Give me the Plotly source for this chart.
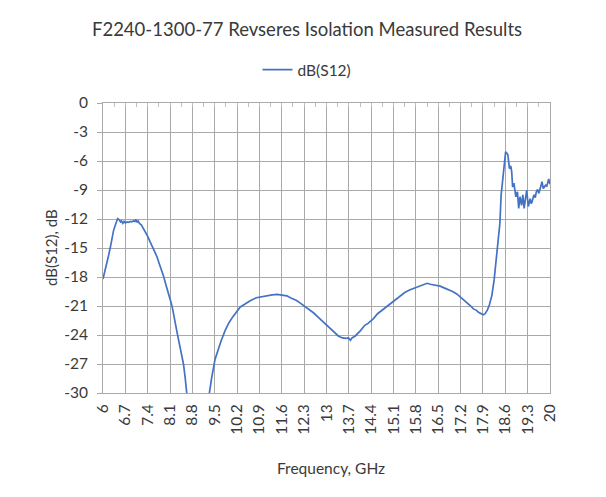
import plotly.graph_objects as go

# ---- data ----
freq_ghz = [
    6.00, 6.10, 6.18, 6.25, 6.33, 6.40, 6.46, 6.50, 6.55, 6.58, 6.62, 6.66, 6.70, 6.75,
    6.80, 6.85, 6.90, 6.95, 7.00, 7.03, 7.07, 7.10, 7.14, 7.20, 7.27, 7.33, 7.40, 7.48,
    7.55, 7.62, 7.69, 7.76, 7.83, 7.90, 7.97, 8.05, 8.12, 8.18, 8.24, 8.30, 8.36, 8.42,
    8.47, 8.52, 8.57, 8.60, 8.70, 8.85, 9.00, 9.15, 9.30, 9.40, 9.51, 9.60, 9.70, 9.83,
    9.95, 10.07, 10.19, 10.30, 10.45, 10.61, 10.80, 11.00, 11.13, 11.30, 11.45, 11.60,
    11.76, 11.90, 12.05, 12.18, 12.30, 12.45, 12.59, 12.72, 12.85, 13.01, 13.15, 13.27,
    13.37, 13.50, 13.60, 13.69, 13.75, 13.80, 13.90, 14.05, 14.20, 14.30, 14.47, 14.60,
    14.75, 14.89, 15.05, 15.20, 15.31, 15.45, 15.60, 15.72, 15.85, 16.00, 16.15, 16.25,
    16.35, 16.45, 16.56, 16.70, 16.85, 16.95, 17.08, 17.20, 17.30, 17.40, 17.50, 17.60,
    17.70, 17.76, 17.85, 17.91, 17.97, 18.04, 18.10, 18.18, 18.25, 18.30, 18.35, 18.43,
    18.47, 18.51, 18.56, 18.61, 18.65, 18.68, 18.71, 18.73, 18.77, 18.80, 18.83, 18.87,
    18.90, 18.93, 18.96, 18.98, 19.02, 19.06, 19.11, 19.15, 19.19, 19.23, 19.27, 19.32,
    19.35, 19.38, 19.41, 19.44, 19.47, 19.50, 19.54, 19.57, 19.61, 19.65, 19.68, 19.71,
    19.75, 19.79, 19.83, 19.86, 19.90, 19.93, 19.96, 20.00,
]
s12_db = [
    -18.2, -16.6, -15.7, -14.6, -13.2, -12.5, -11.95, -12.05, -12.3, -12.2, -12.45, -12.25, -12.4, -12.3,
    -12.35, -12.25, -12.3, -12.2, -12.25, -12.05, -12.35, -12.2, -12.45, -12.6, -13.0, -13.4, -13.8, -14.4,
    -14.9, -15.4, -15.9, -16.6, -17.2, -17.95, -18.8, -19.6, -20.5, -21.3, -22.5, -23.4, -24.4, -25.4,
    -26.0, -27.0, -28.3, -29.4, -32.5, -36.0, -38.0, -34.0, -30.6, -28.5, -26.5, -25.5, -24.6, -23.5,
    -22.7, -22.1, -21.6, -21.1, -20.8, -20.45, -20.15, -20.0, -19.9, -19.85, -19.8, -19.9,
    -19.95, -20.2, -20.4, -20.7, -21.0, -21.3, -21.7, -22.1, -22.5, -23.0, -23.5, -23.8,
    -24.1, -24.3, -24.35, -24.3, -24.55, -24.3, -24.1, -23.6, -23.0, -22.8, -22.3, -21.8,
    -21.4, -21.0, -20.6, -20.2, -19.95, -19.6, -19.35, -19.2, -19.0, -18.85, -18.65, -18.75,
    -18.8, -18.85, -18.95, -19.15, -19.35, -19.5, -19.75, -20.1, -20.4, -20.6, -20.95, -21.3,
    -21.45, -21.65, -21.8, -21.9, -21.8, -21.4, -20.9, -19.9, -18.3, -16.8, -15.0, -12.45,
    -9.5, -8.0, -6.6, -5.05, -5.2, -5.35, -6.2, -6.8, -6.5, -7.1, -8.7, -8.3,
    -9.0, -9.7, -9.3, -9.2, -10.9, -9.7, -10.6, -9.5, -10.9, -10.0, -9.0, -10.7,
    -10.2, -9.9, -10.4, -10.2, -9.8, -9.5, -9.8, -9.2, -8.95, -9.35, -9.0, -8.7,
    -8.15, -8.85, -8.6, -8.5, -8.6, -8.3, -7.85, -8.4,
]
x_tick_vals = [6.0, 6.7, 7.4, 8.1, 8.8, 9.5, 10.2, 10.9, 11.6, 12.3, 13.0, 13.7, 14.4,
               15.1, 15.8, 16.5, 17.2, 17.9, 18.6, 19.3, 20.0]
x_tick_text = ["6", "6.7", "7.4", "8.1", "8.8", "9.5", "10.2", "10.9", "11.6", "12.3", "13",
               "13.7", "14.4", "15.1", "15.8", "16.5", "17.2", "17.9", "18.6", "19.3", "20"]
y_tick_vals = [0, -3, -6, -9, -12, -15, -18, -21, -24, -27, -30]
y_tick_text = ["0", "-3", "-6", "-9", "-12", "-15", "-18", "-21", "-24", "-27", "-30"]

title_text = "F2240-1300-77 Revseres Isolation Measured Results"
series_name = "dB(S12)"
y_title = "dB(S12), dB"
x_title = "Frequency, GHz"

# ---- layout geometry (page body adds an 8px offset) ----
OFF = 8
W, H = 606 - OFF, 497 - OFF
ML, MT = 103 - OFF, 103 - OFF
MR = W - (550 - OFF)
MB = H - (393 - OFF)
PW, PH = W - ML - MR, H - MT - MB

FONT = "Lato, 'Open Sans', sans-serif"
TXT = "#3a3a3a"
GRID = "#a9a9a9"
LINE = "#4472C4"

fig = go.Figure()
fig.add_trace(go.Scatter(
    x=freq_ghz, y=s12_db, mode="lines", name=series_name,
    line=dict(color=LINE, width=1.7),
))
# helper trace to carry the top (crossing) axis with its tick marks
fig.add_trace(go.Scatter(
    x=freq_ghz, y=s12_db, mode="lines", xaxis="x2", showlegend=False,
    line=dict(color="rgba(0,0,0,0)", width=0), hoverinfo="skip",
))

fig.update_layout(
    width=W, height=H,
    margin=dict(l=ML, r=MR, t=MT, b=MB, autoexpand=False),
    paper_bgcolor="white", plot_bgcolor="white",
    font=dict(family=FONT, color=TXT),
    title=dict(text=title_text, x=0.5, xref="container", xanchor="center",
               y=1 - (30 - OFF) / H, yref="container", yanchor="middle",
               font=dict(size=18.5, color=TXT, family=FONT)),
    showlegend=True,
    legend=dict(orientation="h", x=0.5, xref="container", xanchor="center",
                y=1 - (70 - OFF) / H, yref="container", yanchor="middle",
                font=dict(size=15.5, color=TXT), bgcolor="rgba(0,0,0,0)"),
    xaxis=dict(
        range=[6, 20], tickmode="array", tickvals=x_tick_vals, ticktext=x_tick_text,
        tickangle=-90, ticks="", showgrid=True, gridcolor=GRID, gridwidth=1,
        showline=True, linecolor=GRID, linewidth=1, mirror=True, zeroline=False,
        tickfont=dict(size=15.5, color=TXT), ticklabelstandoff=4,
    ),
    xaxis2=dict(
        range=[6, 20], overlaying="x", side="top", tick0=6, dtick=0.35,
        ticks="inside", ticklen=4, tickcolor="#bfbfbf", showticklabels=False,
        showgrid=False, showline=False, zeroline=False,
    ),
    yaxis=dict(
        range=[-30, 0], tickmode="array", tickvals=y_tick_vals, ticktext=y_tick_text,
        ticks="outside", ticklen=5, tickcolor=GRID, showgrid=True, gridcolor=GRID,
        gridwidth=1, showline=True, linecolor=GRID, linewidth=1, mirror=True,
        zeroline=False, tickfont=dict(size=15.5, color=TXT), ticklabelstandoff=6,
    ),
)

# axis titles
fig.add_annotation(text=y_title, xref="paper", yref="paper",
                   x=(51 - OFF - ML) / PW, y=0.5, xanchor="center", yanchor="middle",
                   textangle=-90, showarrow=False, font=dict(size=15, color=TXT))
fig.add_annotation(text=x_title, xref="paper", yref="paper",
                   x=(331 - OFF - ML) / PW, y=-(468 - OFF - (MT + PH)) / PH,
                   xanchor="center", yanchor="middle",
                   showarrow=False, font=dict(size=15.5, color=TXT))

fig.write_html("out.html")
